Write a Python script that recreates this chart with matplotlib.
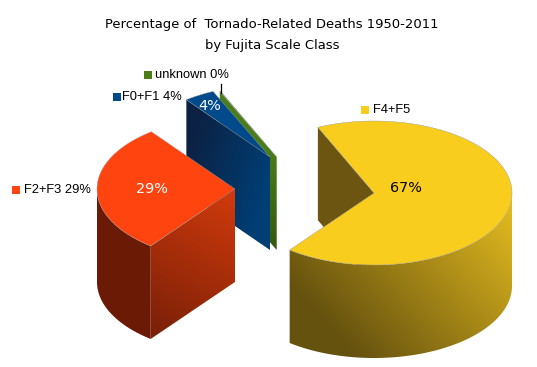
import numpy as np
import matplotlib
matplotlib.use('Agg')
import matplotlib.pyplot as plt
from matplotlib.colors import to_rgb
from matplotlib.patches import Polygon

# Data
legend_labels = ['F4+F5', 'F2+F3 29%', 'F0+F1 4%', 'unknown 0%']
sizes = [67.2, 29.2, 3.6, 0.1]

title = 'Percentage of  Tornado-Related Deaths 1950-2011\nby Fujita Scale Class'

# Slice look, in pixels of the 537x367 picture
centers = [(374, 193), (235, 189), (270, 157), (276.7, 157)]
top_colors = ['#F9CD1E', '#FF440F', '#004A8C', '#4A7F17']
rx, ry, depth = 138, 72, 93
start_angle = 114

# gradient: first point, last point, first colour, last colour
cut_faces = [
    ((0, 0), (1, 0), '#6B5510', '#6B5510'),
    ((235, 195), (152, 335), '#D03A0C', '#7A2008'),
    ((190, 150), (269, 172), '#0C2244', '#003E74'),
    ((270, 150), (270, 250), '#4A7D18', '#33590F'),
]
rim_faces = [
    ((505, 200), (345, 345), '#E2BA1F', '#66520F'),
    ((0, 0), (1, 0), '#6B1A06', '#6B1A06'),
    ((0, 0), (1, 0), '#0C2244', '#0C2244'),
    ((0, 0), (1, 0), '#33590F', '#33590F'),
]
legend_squares = [(365, 110), (16, 190), (116.5, 97), (148, 75)]
legend_text_x = [373, 24, 122, 155]
value_labels = [(405.5, 188, 'black'), (152, 189, 'white'), (209.5, 106, 'white')]

fig = plt.figure(figsize=(5.37, 3.67), dpi=100)
ax = fig.add_axes([0, 0, 1, 1])


def gradient_fill(points, p0, p1, c0, c1, z):
    # linear gradient clipped to a polygon
    points = np.array(points)
    x0, y0 = np.floor(points.min(axis=0))
    x1, y1 = np.ceil(points.max(axis=0))
    xx, yy = np.meshgrid(np.arange(x0, x1 + 1), np.arange(y0, y1 + 1))
    d = np.array(p1, dtype=float) - np.array(p0, dtype=float)
    t = ((xx - p0[0]) * d[0] + (yy - p0[1]) * d[1]) / (d @ d)
    t = np.clip(t, 0, 1)[..., None]
    img = np.array(to_rgb(c0)) * (1 - t) + np.array(to_rgb(c1)) * t
    im = ax.imshow(img, extent=(x0 - 0.5, x1 + 0.5, y1 + 0.5, y0 - 0.5),
                   zorder=z, interpolation='bilinear')
    patch = Polygon(points, closed=True, fc='none', ec='none', zorder=z + 0.1)
    ax.add_patch(patch)
    im.set_clip_path(patch)


def rim_point(center, angle):
    a = np.radians(angle)
    return center[0] + rx * np.cos(a), center[1] - ry * np.sin(a)


total = sum(sizes)
angle = start_angle
for i in range(len(sizes)):
    a0 = angle
    a1 = angle - sizes[i] / total * 360
    angle = a1
    c = centers[i]
    z = 10 - i * 2

    # cut faces which look towards the viewer
    for edge, normal in ((a0, a0 + 90), (a1, a1 - 90)):
        if np.sin(np.radians(normal)) < 0:
            r = rim_point(c, edge)
            face = [c, r, (r[0], r[1] + depth), (c[0], c[1] + depth)]
            p0, p1, col0, col1 = cut_faces[i]
            gradient_fill(face, p0, p1, col0, col1, z)

    # outer wall, only its front half shows
    angles = np.arange(a1, a0, 1.0)
    angles = np.append(angles, a0)
    lower = (angles % 360) >= 180
    if lower.any():
        arc = [rim_point(c, t) for t in angles[lower]]
        wall = arc + [(x, y + depth) for x, y in arc[::-1]]
        p0, p1, col0, col1 = rim_faces[i]
        gradient_fill(wall, p0, p1, col0, col1, z + 0.3)

    # top face
    top = [c] + [rim_point(c, t) for t in angles]
    ax.add_patch(Polygon(top, closed=True, fc=top_colors[i], ec='#9a9a9a',
                         lw=0.3, zorder=z + 0.6))

# percentages on the slices
for (x, y, col), v in zip(value_labels, sizes):
    ax.text(x, y, f'{round(v)}%', color=col, fontsize=10.4, ha='center',
            va='center', family='DejaVu Sans', zorder=20)

# legend entries beside the slices
for i, label in enumerate(legend_labels):
    sx, sy = legend_squares[i]
    ax.add_patch(plt.Rectangle((sx - 4, sy - 4), 8, 8, fc=top_colors[i], ec='none', zorder=20))
    ax.text(legend_text_x[i], sy, label, fontsize=9.3,
            ha='left', va='center', family='Liberation Sans', color='black', zorder=20)

# leader line of the unknown slice
ax.plot([221, 221], [84, 93], color='black', lw=0.9, zorder=20)

ax.text(272, 35, title, fontsize=9.45, ha='center', va='center', linespacing=1.75,
        family='DejaVu Sans', color='black')

ax.set_xlim(0, 537)
ax.set_ylim(367, 0)
ax.set_aspect('auto')
ax.axis('off')

fig.savefig('out.png', dpi=100, facecolor='white')
